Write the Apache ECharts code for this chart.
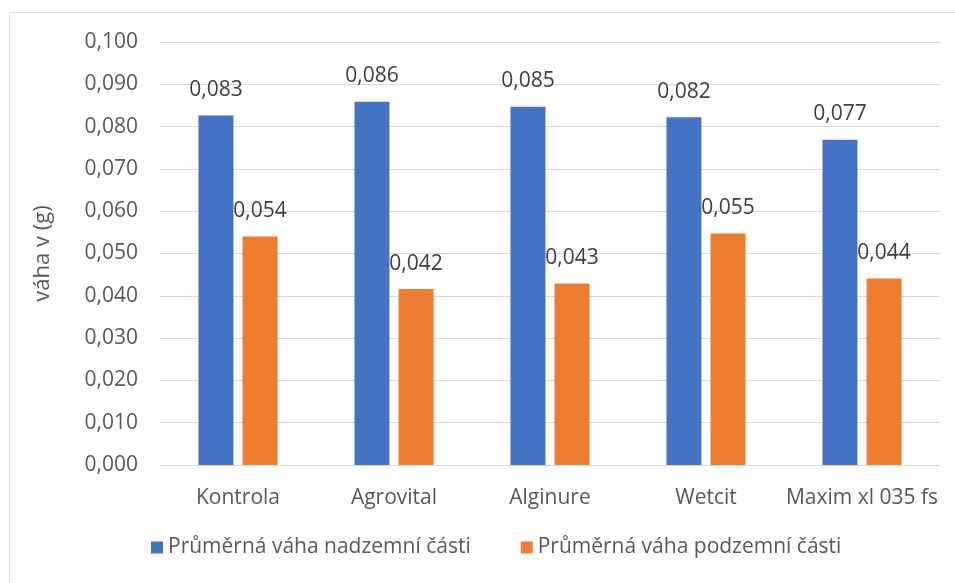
<!DOCTYPE html>
<html>
<head>
<meta charset="utf-8">
<script src="https://cdn.jsdelivr.net/npm/echarts@6/dist/echarts.min.js"></script>
<style>
html,body{margin:0;padding:0;background:#fff;}
#main{width:955px;height:583px;}
</style>
</head>
<body>
<div id="main"></div>
<script>
const categories = ['Kontrola', 'Agrovital', 'Alginure', 'Wetcit', 'Maxim xl 035 fs'];
const seriesNames = ['Průměrná váha nadzemní části', 'Průměrná váha podzemní části'];
const aboveGround = [0.0826, 0.0859, 0.0847, 0.0822, 0.0769];
const belowGround = [0.0540, 0.0416, 0.0429, 0.0547, 0.0441];
const yAxisName = 'váha v (g)';

const FONT = 'Open Sans';
const fmt = v => v.toFixed(3).replace('.', ',');

const chart = echarts.init(document.getElementById('main'));
chart.setOption({
  animation: false,
  backgroundColor: '#fff',
  textStyle: { fontFamily: FONT },
  graphic: [{
    type: 'rect',
    shape: { x: 9.5, y: 12.5, width: 1000, height: 1000 },
    style: { fill: 'none', stroke: '#d9d9d9', lineWidth: 1 },
    silent: true
  }],
  grid: { left: 160, right: 15, top: 42, bottom: 118 },
  legend: {
    data: seriesNames,
    bottom: 20,
    left: 146,
    itemWidth: 12,
    itemHeight: 12,
    itemGap: 50,
    icon: 'rect',
    textStyle: { fontFamily: FONT, fontSize: 21, color: '#595959' }
  },
  xAxis: {
    type: 'category',
    data: categories,
    axisLine: { lineStyle: { color: '#d9d9d9', width: 1 } },
    axisTick: { show: false },
    axisLabel: { interval: 0, fontFamily: FONT, fontSize: 21, color: '#595959', margin: 23 }
  },
  yAxis: {
    type: 'value',
    min: 0,
    max: 0.1,
    interval: 0.01,
    name: yAxisName,
    nameLocation: 'middle',
    nameGap: 106,
    nameTextStyle: { fontFamily: FONT, fontSize: 22, color: '#595959' },
    axisLine: { show: false },
    axisTick: { show: false },
    splitLine: { lineStyle: { color: '#d9d9d9', width: 1 } },
    axisLabel: { fontFamily: FONT, fontSize: 21, color: '#595959', margin: 22, formatter: fmt }
  },
  series: [
    {
      name: seriesNames[0],
      type: 'bar',
      data: aboveGround,
      barWidth: 35,
      barGap: '26%',
      itemStyle: { color: '#4472C4' },
      label: { show: true, position: 'top', distance: 15, fontFamily: FONT, fontSize: 21, color: '#404040', formatter: p => fmt(p.value) }
    },
    {
      name: seriesNames[1],
      type: 'bar',
      data: belowGround,
      barWidth: 35,
      barGap: '26%',
      itemStyle: { color: '#ED7D31' },
      label: { show: true, position: 'top', distance: 15, fontFamily: FONT, fontSize: 21, color: '#404040', formatter: p => fmt(p.value) }
    }
  ]
});
</script>
</body>
</html>
